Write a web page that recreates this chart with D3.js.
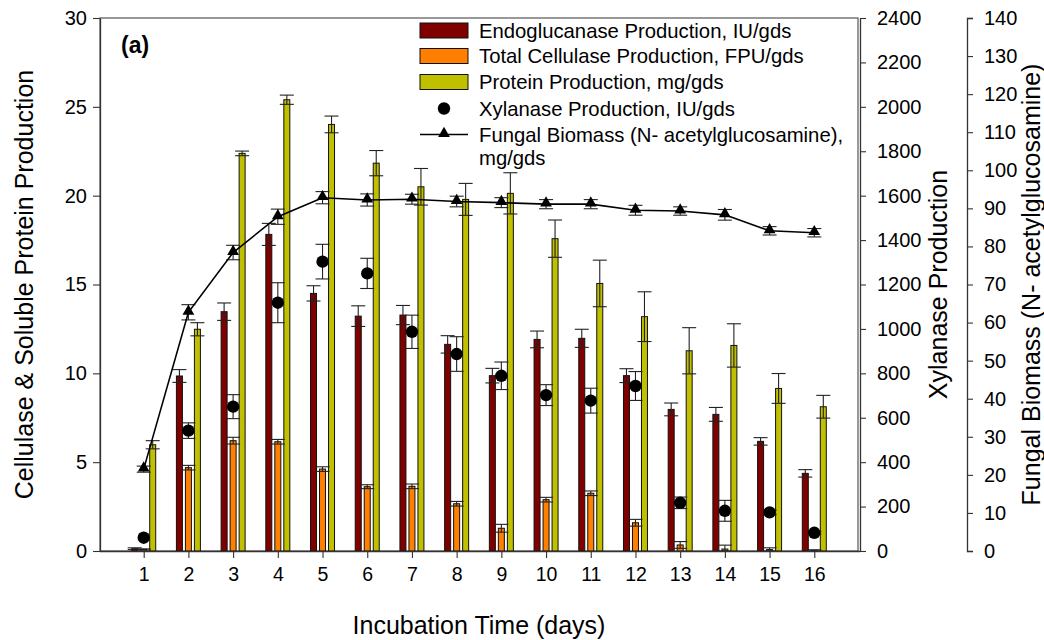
<!DOCTYPE html>
<html>
<head>
<meta charset="utf-8">
<script src="https://cdn.jsdelivr.net/npm/d3@7"></script>
<style>
  html, body { margin: 0; padding: 0; background: #fff; }
  svg { display: block; font-family: "Liberation Sans", Arial, Helvetica, sans-serif; }
</style>
</head>
<body>
<svg id="chart" width="1044" height="640"></svg>
<script>
// Incubation days
const days = [1, 2, 3, 4, 5, 6, 7, 8, 9, 10, 11, 12, 13, 14, 15, 16];

// Endoglucanase, IU/gds (left axis)
const endoglucanase    = [0.13, 9.85, 13.47, 17.82, 14.5, 13.22, 13.28, 11.63, 9.87, 11.91, 11.97, 9.87, 7.97, 7.69, 6.17, 4.37];
const endoglucanaseErr = [0.05, 0.36, 0.49, 0.62, 0.43, 0.58, 0.54, 0.49, 0.41, 0.47, 0.51, 0.39, 0.36, 0.39, 0.21, 0.21];

// Total cellulase, FPU/gds (left axis)
const totalCellulase    = [0.09, 4.69, 6.21, 6.15, 4.61, 3.62, 3.64, 2.66, 1.28, 2.89, 3.25, 1.59, 0.34, 0.11, 0.08, 0.02];
const totalCellulaseErr = [0.03, 0.13, 0.19, 0.13, 0.13, 0.11, 0.13, 0.13, 0.22, 0.13, 0.13, 0.19, 0.19, 0.22, 0.10, 0.05];

// Soluble protein, mg/gds (left axis)
const protein    = [5.98, 12.48, 22.38, 25.40, 24.01, 21.83, 20.5, 19.79, 20.13, 17.58, 15.06, 13.19, 11.27, 11.57, 9.15, 8.12];
const proteinErr = [0.23, 0.37, 0.13, 0.26, 0.47, 0.71, 1.03, 0.9, 1.16, 1.05, 1.31, 1.4, 1.3, 1.22, 0.84, 0.64];

// Xylanase, IU/gds (first right axis)
const xylanase    = [60, 542, 650, 1118, 1303, 1250, 987, 887, 789, 702, 677, 743, 217, 181, 174, 82];
const xylanaseErr = [0, 35, 54, 90, 78, 68, 75, 78, 62, 47, 56, 65, 26, 47, 10, 6];

// Fungal biomass as N-acetylglucosamine, mg/gds (second right axis)
const biomass    = [21.5, 62.7, 78.4, 87.8, 92.8, 92.2, 92.4, 91.8, 91.5, 91.1, 91.1, 89.5, 89.3, 88.3, 84.1, 83.6];
const biomassErr = [0.8, 2.0, 1.9, 2.0, 1.6, 1.6, 1.3, 1.4, 1.3, 1.2, 1.2, 1.3, 1.1, 1.4, 1.1, 1.1];

// Axis ticks
const leftTicks = [0, 5, 10, 15, 20, 25, 30];
const xylTicks = [0, 200, 400, 600, 800, 1000, 1200, 1400, 1600, 1800, 2000, 2200, 2400];
const bioTicks = [0, 10, 20, 30, 40, 50, 60, 70, 80, 90, 100, 110, 120, 130, 140];

const legendLabels = [
  "Endoglucanase Production, IU/gds",
  "Total Cellulase Production, FPU/gds",
  "Protein Production, mg/gds",
  "Xylanase Production, IU/gds",
  "Fungal Biomass (N- acetylglucosamine),"
];

const colors = { endo: "#800000", fpu: "#ff8000", protein: "#c0c000" };

const svg = d3.select("#chart");

const plotL = 100, plotR = 860, plotT = 18, plotB = 551;
const x = d3.scaleLinear().domain([0, 17]).range([99, 859]);
const yL = d3.scaleLinear().domain([0, 30]).range([plotB, plotT]);
const yX = d3.scaleLinear().domain([0, 2400]).range([plotB, plotT]);
const yB = d3.scaleLinear().domain([0, 140]).range([plotB, plotT]);

// Plot frame
svg.append("rect")
  .attr("x", plotL).attr("y", plotT)
  .attr("width", plotR - plotL - 2).attr("height", plotB - plotT)
  .attr("fill", "none").attr("stroke", "#555").attr("stroke-width", 1.2);

// Bars
const barW = 6, barStep = 9;
const barSeries = [
  { vals: endoglucanase, errs: endoglucanaseErr, color: colors.endo, off: -barStep },
  { vals: totalCellulase, errs: totalCellulaseErr, color: colors.fpu, off: 0 },
  { vals: protein, errs: proteinErr, color: colors.protein, off: barStep }
];

const gBars = svg.append("g");
barSeries.forEach(s => {
  gBars.append("g").selectAll("rect")
    .data(days)
    .join("rect")
    .attr("x", (d, i) => x(d) + s.off - barW / 2)
    .attr("y", (d, i) => yL(s.vals[i]))
    .attr("width", barW)
    .attr("height", (d, i) => yL(0) - yL(s.vals[i]))
    .attr("fill", s.color)
    .attr("stroke", "#111")
    .attr("stroke-width", 1);
});

// Error bar: vertical whisker with a cap at each end
function errorBars(g, cx, hi, lo, capW) {
  g.append("line").attr("x1", cx).attr("x2", cx).attr("y1", hi).attr("y2", lo);
  g.append("line").attr("x1", cx - capW / 2).attr("x2", cx + capW / 2).attr("y1", hi).attr("y2", hi);
  g.append("line").attr("x1", cx - capW / 2).attr("x2", cx + capW / 2).attr("y1", lo).attr("y2", lo);
}

const gErr = svg.append("g").attr("stroke", "#222").attr("stroke-width", 1.1).attr("fill", "none");
barSeries.forEach(s => {
  days.forEach((d, i) => {
    if (s.errs[i] <= 0) return;
    const cx = x(d) + s.off;
    errorBars(gErr, cx, yL(s.vals[i] + s.errs[i]), yL(Math.max(0, s.vals[i] - s.errs[i])), 14);
  });
});

// Xylanase points with error bars
days.forEach((d, i) => {
  if (xylanaseErr[i] > 0) {
    errorBars(gErr, x(d), yX(xylanase[i] + xylanaseErr[i]), yX(xylanase[i] - xylanaseErr[i]), 14);
  }
});
svg.append("g").selectAll("circle")
  .data(days)
  .join("circle")
  .attr("cx", d => x(d))
  .attr("cy", (d, i) => yX(xylanase[i]))
  .attr("r", 6.2)
  .attr("fill", "#000");

// Biomass line with triangles
days.forEach((d, i) => {
  errorBars(gErr, x(d), yB(biomass[i] + biomassErr[i]), yB(biomass[i] - biomassErr[i]), 14);
});
const line = d3.line().x((d, i) => x(d)).y((d, i) => yB(biomass[i]));
svg.append("path")
  .datum(days)
  .attr("d", line)
  .attr("fill", "none")
  .attr("stroke", "#000")
  .attr("stroke-width", 1.6);

const tri = d3.symbol().type(d3.symbolTriangle).size(60);
svg.append("g").selectAll("path")
  .data(days)
  .join("path")
  .attr("transform", (d, i) => `translate(${x(d)},${yB(biomass[i]) - 1})`)
  .attr("d", tri)
  .attr("fill", "#000");

// Axes
function styleAxis(g, size) {
  g.select(".domain").attr("stroke", "#333").attr("stroke-width", 1.3);
  g.selectAll(".tick line").attr("stroke", "#333").attr("stroke-width", 1.1);
  g.selectAll(".tick text").attr("fill", "#000").style("font-size", size + "px")
    .style("font-family", '"Liberation Sans", Arial, sans-serif');
}

const plain = d3.format("d");

svg.append("g")
  .attr("transform", `translate(${plotL},0)`)
  .call(d3.axisLeft(yL).tickValues(leftTicks).tickFormat(plain).tickSize(7).tickPadding(6).tickSizeOuter(0))
  .call(g => styleAxis(g, 20));

svg.append("g")
  .attr("transform", `translate(0,${plotB})`)
  .call(d3.axisBottom(x).tickValues(days).tickFormat(plain).tickSize(7).tickPadding(9).tickSizeOuter(0))
  .call(g => g.select(".domain").attr("d", `M${plotL},0.5H${plotR}`))
  .call(g => styleAxis(g, 19.5));

svg.append("g")
  .attr("transform", `translate(${plotR},0)`)
  .call(d3.axisRight(yX).tickValues(xylTicks).tickFormat(plain).tickSize(6).tickPadding(11).tickSizeOuter(0))
  .call(g => styleAxis(g, 20));

svg.append("g")
  .attr("transform", `translate(967,0)`)
  .call(d3.axisRight(yB).tickValues(bioTicks).tickFormat(plain).tickSize(6).tickPadding(11).tickSizeOuter(6))
  .call(g => styleAxis(g, 20));

// Axis titles
const titleFont = 25;
svg.append("text")
  .attr("x", 479).attr("y", 634)
  .attr("text-anchor", "middle")
  .style("font-size", titleFont + "px")
  .text("Incubation Time (days)");

svg.append("text")
  .attr("transform", `translate(33,${(plotT + plotB) / 2}) rotate(-90)`)
  .attr("text-anchor", "middle")
  .style("font-size", titleFont + "px")
  .text("Cellulase & Soluble Protein Production");

svg.append("text")
  .attr("transform", `translate(947,${(plotT + plotB) / 2}) rotate(-90)`)
  .attr("text-anchor", "middle")
  .style("font-size", titleFont + "px")
  .text("Xylanase Production");

svg.append("text")
  .attr("transform", `translate(1040,${(plotT + plotB) / 2}) rotate(-90)`)
  .attr("text-anchor", "middle")
  .style("font-size", titleFont + "px")
  .text("Fungal Biomass (N- acetylglucosamine)");

// Panel label
svg.append("text")
  .attr("x", 121).attr("y", 53)
  .style("font-size", "23px").style("font-weight", "bold")
  .text("(a)");

// Legend
const lg = svg.append("g");
const lgX = 420, swW = 48, swH = 15, txX = 479;
const rowY = [30.5, 56, 82, 108.5, 134.5];
[colors.endo, colors.fpu, colors.protein].forEach((c, i) => {
  lg.append("rect")
    .attr("x", lgX).attr("y", rowY[i] - swH / 2)
    .attr("width", swW).attr("height", swH)
    .attr("fill", c).attr("stroke", "#111").attr("stroke-width", 1);
});
lg.append("circle").attr("cx", lgX + swW / 2).attr("cy", rowY[3]).attr("r", 6.2).attr("fill", "#000");
lg.append("line")
  .attr("x1", lgX).attr("x2", lgX + swW).attr("y1", rowY[4]).attr("y2", rowY[4])
  .attr("stroke", "#000").attr("stroke-width", 1.6);
lg.append("path")
  .attr("transform", `translate(${lgX + swW / 2},${rowY[4] - 1})`)
  .attr("d", tri).attr("fill", "#000");

legendLabels.forEach((t, i) => {
  lg.append("text")
    .attr("x", txX).attr("y", rowY[i])
    .attr("dy", "0.35em")
    .style("font-size", "20.3px")
    .text(t);
});
lg.append("text")
  .attr("x", txX).attr("y", 158)
  .attr("dy", "0.35em")
  .style("font-size", "20.3px")
  .text("mg/gds");
</script>
</body>
</html>
